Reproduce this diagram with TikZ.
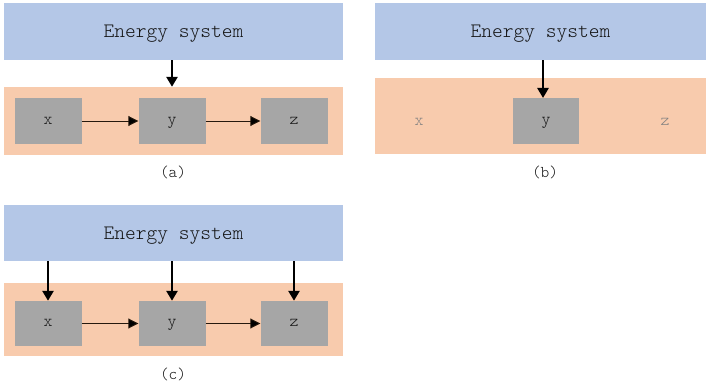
\documentclass[tikz,border=0pt]{standalone}
\usepackage{fontspec}
\setmonofont{Latin Modern Mono Light}
\usetikzlibrary{arrows.meta}
\definecolor{esblue}{HTML}{B4C7E7}
\definecolor{bgorange}{HTML}{F8CBAD}
\definecolor{boxgray}{HTML}{A6A6A6}
\definecolor{txt}{HTML}{141414}
\definecolor{faint}{HTML}{808080}
\tikzset{
  esbox/.style={fill=esblue, draw=none, minimum width=339pt, minimum height=57pt, inner sep=0pt,
    font=\ttfamily\fontsize{20.5}{22}\selectfont, text=txt, text height=12.5pt, text depth=0pt},
  bgbox/.style={fill=bgorange, draw=none, minimum width=339pt, inner sep=0pt},
  varbox/.style={fill=boxgray, draw=none, minimum height=46pt, minimum width=67pt, inner sep=0pt,
    font=\ttfamily\fontsize{17}{18}\selectfont, text=txt, text height=6.5pt, text depth=0pt},
  ghost/.style={font=\ttfamily\fontsize{17}{18}\selectfont, text=faint, inner sep=0pt,
    text height=6.5pt, text depth=0pt},
  sublabel/.style={font=\ttfamily\fontsize{16.5}{18}\selectfont, text=txt, inner sep=0pt},
  bigarrow/.style={line width=2.6pt, -{Triangle[length=10pt,width=11pt]}},
  smallarrow/.style={line width=0.9pt, draw=black!80!brown, -{Triangle[length=10pt,width=10pt,fill=black]}},
}
\begin{document}
\begin{tikzpicture}[x=1pt,y=-1pt]
\useasboundingbox (0,0) rectangle (706,387);
% (a)
\node[esbox] (esA) at (173.5,31.5) {Energy system};
\node[bgbox, minimum height=68pt] (bgA) at (173.5,121) {};
\node[varbox] (xA) at (48,121) {x};
\node[varbox] (yA) at (172,121) {y};
\node[varbox] (zA) at (294,121) {z};
\draw[bigarrow] (esA.south -| yA.north) -- (bgA.north -| yA.north);
\draw[smallarrow] (xA) -- (yA);
\draw[smallarrow] (yA) -- (zA);
\node[sublabel] (capA) at (173,172) {(a)};
% (b)
\node[esbox, minimum width=331pt] (esB) at (540.5,31.5) {Energy system};
\node[bgbox, minimum width=331pt, minimum height=76pt] (bgB) at (540.5,116) {};
\node[varbox, minimum width=66pt] (yB) at (546,121) {y};
\coordinate (aB) at (543,98);
\node[ghost] (xB) at (419,122) {x};
\node[ghost] (zB) at (665,122) {z};
\draw[bigarrow] (esB.south -| aB) -- (aB);
\node[sublabel] (capB) at (545,172) {(b)};
% (c)
\node[esbox, minimum height=56pt] (esC) at (173.5,233) {Energy system};
\node[bgbox, minimum height=73pt] (bgC) at (173.5,319.5) {};
\node[varbox, minimum height=45pt] (xC) at (48,323.5) {x};
\node[varbox, minimum height=45pt] (yC) at (172,323.5) {y};
\node[varbox, minimum height=45pt] (zC) at (294,323.5) {z};
\draw[bigarrow] (esC.south -| xC.north) -- (xC.north);
\draw[bigarrow] (esC.south -| yC.north) -- (yC.north);
\draw[bigarrow] (esC.south -| zC.north) -- (zC.north);
\draw[smallarrow] (xC) -- (yC);
\draw[smallarrow] (yC) -- (zC);
\node[sublabel] (capC) at (173,374) {(c)};
\end{tikzpicture}
\end{document}
